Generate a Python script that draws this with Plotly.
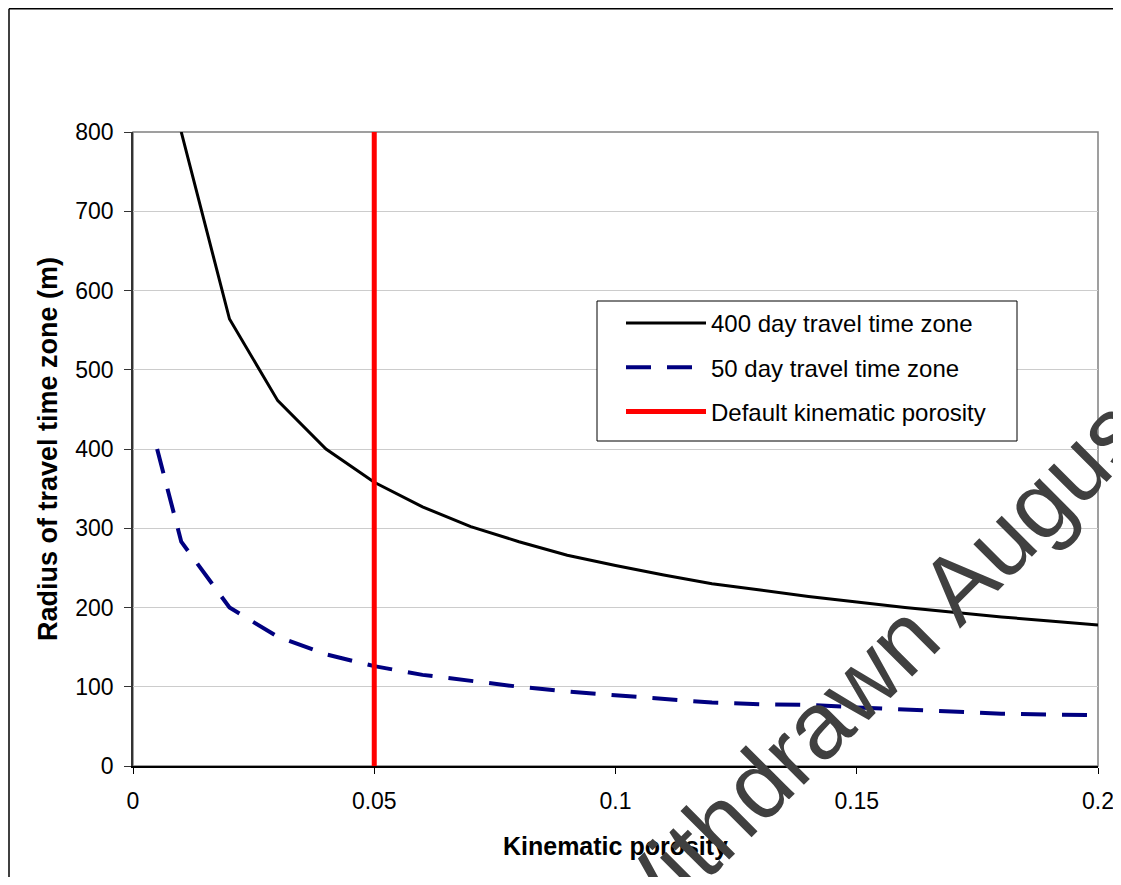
import plotly.graph_objects as go

# Data
porosity_400 = [0.01, 0.02, 0.03, 0.04, 0.05, 0.06, 0.07, 0.08, 0.09, 0.10,
                0.11, 0.12, 0.13, 0.14, 0.15, 0.16, 0.17, 0.18, 0.19, 0.20]
radius_400 = [800, 564, 461, 400, 358, 327, 302, 283, 266, 253,
              241, 230, 222, 214, 207, 200, 194, 188, 183, 178]

porosity_50 = [0.005, 0.01, 0.02, 0.03, 0.04, 0.05, 0.06, 0.07, 0.08, 0.09, 0.10,
               0.11, 0.12, 0.13, 0.14, 0.15, 0.16, 0.17, 0.18, 0.19, 0.20]
radius_50 = [400, 283, 200, 163, 141, 126, 115, 107, 100, 94, 89,
             85, 80, 78, 77, 74, 71, 68, 66, 65, 64]

default_porosity = [0.05, 0.05]
default_range = [0, 800]

series_names = ["400 day travel time zone", "50 day travel time zone",
                "Default kinematic porosity"]

x_title = "Kinematic porosity"
y_title = "Radius of travel time zone (m)"
watermark = "Withdrawn August"

FONT = "Arial, 'Liberation Sans', sans-serif"

fig = go.Figure()
fig.add_trace(go.Scatter(x=porosity_400, y=radius_400, mode="lines",
                         name=series_names[0], legendgroup="a",
                         line=dict(color="black", width=3)))
fig.add_trace(go.Scatter(x=porosity_50, y=radius_50, mode="lines",
                         name=series_names[1], legendgroup="b",
                         line=dict(color="#000080", width=4, dash="25px,16px")))
fig.add_trace(go.Scatter(x=default_porosity, y=default_range, mode="lines",
                         name=series_names[2], legendgroup="c",
                         line=dict(color="#ff0000", width=5)))

# page is offset by the 8px body margin
OFF = 8
W, H = 1121 - OFF, 885 - 2 * OFF
PL, PR, PT, PB = 133, 1098, 132, 766          # plot area in page pixels
ml, mt = PL - OFF, PT - OFF
mr = W - (PR - OFF)
mb = H - (PB - OFF)
pw, ph = PR - PL, PB - PT

def px_to_paper(x, y):
    return (x - PL) / pw, (PB - y) / ph

bx0, by_top = px_to_paper(9, 8.8)
bx_right, by_bot = px_to_paper(1125, 890)
lx0, ly1 = px_to_paper(597, 301)
lx1, ly0 = px_to_paper(1017, 441)
legx, legy = px_to_paper(621, 301)

fig.update_layout(
    width=W, height=H, autosize=False,
    margin=dict(l=ml, r=mr, t=mt, b=mb, autoexpand=False),
    paper_bgcolor="white", plot_bgcolor="white",
    font=dict(family=FONT, size=23, color="black"),
    showlegend=True,
    legend=dict(x=legx, y=legy, xanchor="left", yanchor="top",
                bgcolor="rgba(0,0,0,0)", borderwidth=0,
                font=dict(family=FONT, size=24, color="black"),
                itemwidth=80, tracegroupgap=10, traceorder="grouped"),
    xaxis=dict(range=[0, 0.2], dtick=0.05, tick0=0, automargin=False,
               showgrid=False, zeroline=False,
               showline=True, linecolor="black", linewidth=1.5,
               ticks="outside", ticklen=6, tickcolor="black",
               ticklabelstandoff=8,
               tickfont=dict(family=FONT, size=23, color="black"),
               title=dict(text="<b>" + x_title + "</b>", standoff=24,
                          font=dict(family=FONT, size=25, color="black"))),
    yaxis=dict(range=[0, 800], dtick=100, tick0=0, automargin=False,
               showgrid=True, gridcolor="#cccccc", gridwidth=1,
               zeroline=False,
               showline=True, linecolor="#333333", linewidth=1.5,
               ticks="outside", ticklen=7, tickcolor="#333333",
               ticklabelstandoff=6,
               tickfont=dict(family=FONT, size=23, color="black"),
               title=dict(text="<b>" + y_title + "</b>", standoff=10,
                          font=dict(family=FONT, size=27, color="black"))),
    shapes=[
        dict(type="rect", xref="paper", yref="paper", x0=0, y0=0, x1=1, y1=1,
             line=dict(color="#808080", width=1.5), layer="below"),
        # outer chart border (top and left edges visible)
        dict(type="line", xref="paper", yref="paper", x0=bx0, y0=by_top,
             x1=bx_right, y1=by_top, line=dict(color="black", width=1.5), layer="below"),
        dict(type="line", xref="paper", yref="paper", x0=bx0, y0=by_top,
             x1=bx0, y1=by_bot, line=dict(color="black", width=1.5), layer="below"),
        dict(type="rect", xref="paper", yref="paper", x0=lx0, y0=ly0, x1=lx1, y1=ly1,
             line=dict(color="black", width=1), fillcolor="white", layer="above"),
    ],
)

cx, cy = px_to_paper(875, 667)
fig.add_annotation(text=watermark, xref="paper", yref="paper", x=cx, y=cy,
                   xanchor="center", yanchor="middle", showarrow=False,
                   textangle=-45,
                   font=dict(family=FONT, size=95, color="#404040"))

fig.write_html("out.html")
